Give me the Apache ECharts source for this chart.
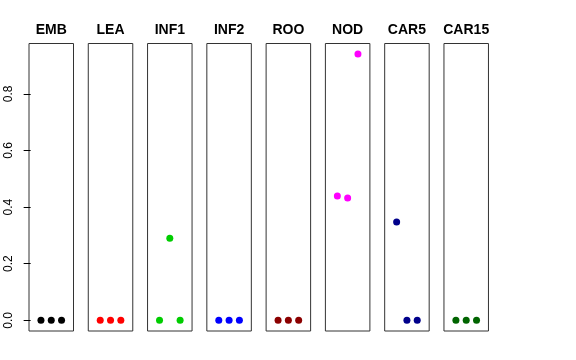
<!DOCTYPE html>
<html>
<head>
<meta charset="utf-8">
<script src="https://cdn.jsdelivr.net/npm/echarts@6/dist/echarts.min.js"></script>
<style>html,body{margin:0;padding:0;background:#fff}#c{width:576px;height:360px}</style>
</head>
<body>
<div id="c"></div>
<script>
var categories = ["EMB", "LEA", "INF1", "INF2", "ROO", "NOD", "CAR5", "CAR15"];
var xPositions = [1, 2, 3];
var valEMB = [0, 0, 0];
var valLEA = [0, 0, 0];
var valINF1 = [0, 0.29, 0];
var valINF2 = [0, 0, 0];
var valROO = [0, 0, 0];
var valNOD = [0.439, 0.432, 0.941];
var valCAR5 = [0.347, 0, 0];
var valCAR15 = [0, 0, 0];
var yTickValues = [0, 0.2, 0.4, 0.6, 0.8];
var yTickLabels = ["0.0", "0.2", "0.4", "0.6", "0.8"];
var colors = ["#000000", "#FF0000", "#00CD00", "#0000FF", "#8B0000", "#FF00FF", "#00008B", "#006400"];

var allValues = [valEMB, valLEA, valINF1, valINF2, valROO, valNOD, valCAR5, valCAR15];

var panelLeft0 = 29, panelStep = 59.28, panelW = 44.5, panelTop = 43.5, panelH = 287.5;
var yMin = -0.0378, yMax = 0.978;
var font = "'Liberation Sans', Arial, Helvetica, sans-serif";

var grids = [], xAxes = [], yAxes = [], series = [], titles = [];
categories.forEach(function (name, i) {
  var left = panelLeft0 + i * panelStep;
  grids.push({left: left, top: panelTop, width: panelW, height: panelH, show: true,
    borderColor: '#333', borderWidth: 1, backgroundColor: 'transparent', containLabel: false});
  xAxes.push({type: 'value', gridIndex: i, min: -0.16, max: 4.16, show: false});
  yAxes.push({type: 'value', gridIndex: i, min: yMin, max: yMax, show: i === 0,
    splitLine: {show: false},
    axisLine: {show: false},
    axisTick: {show: true, length: 7, lineStyle: {color: '#000', width: 1}, customValues: yTickValues},
    axisLabel: {show: true, rotate: 90, margin: 14, fontFamily: font, fontSize: 12, color: '#000',
      customValues: yTickValues,
      formatter: function (v) { var k = yTickValues.indexOf(Math.round(v * 10) / 10); return k >= 0 ? yTickLabels[k] : ''; }}
  });
  series.push({type: 'scatter', xAxisIndex: i, yAxisIndex: i, symbol: 'circle', symbolSize: 7,
    itemStyle: {color: colors[i], opacity: 1}, silent: true, animation: false,
    data: allValues[i].map(function (v, j) { return [xPositions[j], v]; })});
  titles.push({text: name, left: left + panelW / 2, top: 23, textAlign: 'center', padding: 0,
    textStyle: {fontFamily: font, fontWeight: 'bold', fontSize: 14, color: '#000'}});
});

var chart = echarts.init(document.getElementById('c'), null, {renderer: 'canvas'});
chart.setOption({
  animation: false,
  backgroundColor: '#fff',
  title: titles,
  grid: grids,
  xAxis: xAxes,
  yAxis: yAxes,
  series: series
});
</script>
</body>
</html>
